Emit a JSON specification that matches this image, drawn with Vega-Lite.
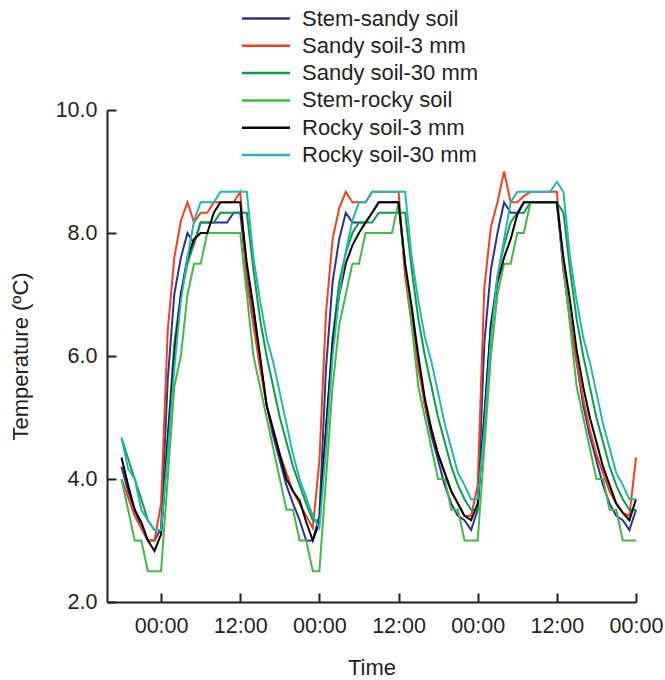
{
  "$schema": "https://vega.github.io/schema/vega-lite/v6.json",
  "width": 529,
  "height": 492,
  "autosize": {"type": "none"},
  "padding": {"left": 107, "top": 110, "right": 29, "bottom": 78},
  "background": "white",
  "config": {
    "view": {"stroke": null},
    "font": "Liberation Sans",
    "axis": {
      "domainColor": "#231f20",
      "domainWidth": 2,
      "tickColor": "#231f20",
      "tickWidth": 2,
      "labelColor": "#231f20",
      "labelFont": "Liberation Sans",
      "labelFontSize": 21.5,
      "titleFont": "Liberation Sans",
      "titleFontSize": 22,
      "titleFontWeight": "normal",
      "titleColor": "#231f20",
      "grid": false,
      "labelOverlap": false,
      "labelFlush": false
    }
  },
  "data": {
    "values": [
      {"h": -6, "B": 4.2, "R": 4.0, "G": 4.67, "L": 4.0, "K": 4.35, "T": 4.67},
      {"h": -5, "B": 3.8, "R": 3.7, "G": 4.33, "L": 3.5, "K": 3.9, "T": 4.17},
      {"h": -4, "B": 3.5, "R": 3.4, "G": 4.0, "L": 3.0, "K": 3.5, "T": 4.0},
      {"h": -3, "B": 3.2, "R": 3.2, "G": 3.67, "L": 3.0, "K": 3.3, "T": 3.5},
      {"h": -2, "B": 3.0, "R": 3.0, "G": 3.33, "L": 2.5, "K": 3.0, "T": 3.33},
      {"h": -1, "B": 3.0, "R": 3.0, "G": 3.17, "L": 2.5, "K": 2.83, "T": 3.17},
      {"h": 0, "B": 3.2, "R": 3.6, "G": 3.17, "L": 2.5, "K": 3.1, "T": 3.17},
      {"h": 1, "B": 5.6, "R": 6.4, "G": 4.7, "L": 4.0, "K": 4.6, "T": 4.4},
      {"h": 2, "B": 7.0, "R": 7.6, "G": 6.2, "L": 5.5, "K": 6.0, "T": 5.8},
      {"h": 3, "B": 7.6, "R": 8.2, "G": 7.0, "L": 6.0, "K": 7.0, "T": 6.9},
      {"h": 4, "B": 8.0, "R": 8.5, "G": 7.5, "L": 7.0, "K": 7.6, "T": 7.6},
      {"h": 5, "B": 7.83, "R": 8.17, "G": 7.83, "L": 7.5, "K": 7.9, "T": 8.2},
      {"h": 6, "B": 8.17, "R": 8.33, "G": 8.17, "L": 7.5, "K": 8.0, "T": 8.5},
      {"h": 7, "B": 8.17, "R": 8.33, "G": 8.17, "L": 8.0, "K": 8.0, "T": 8.5},
      {"h": 8, "B": 8.17, "R": 8.5, "G": 8.17, "L": 8.0, "K": 8.33, "T": 8.5},
      {"h": 9, "B": 8.17, "R": 8.5, "G": 8.33, "L": 8.0, "K": 8.5, "T": 8.67},
      {"h": 10, "B": 8.17, "R": 8.5, "G": 8.33, "L": 8.0, "K": 8.5, "T": 8.67},
      {"h": 11, "B": 8.33, "R": 8.5, "G": 8.33, "L": 8.0, "K": 8.5, "T": 8.67},
      {"h": 12, "B": 8.33, "R": 8.67, "G": 8.33, "L": 8.0, "K": 8.5, "T": 8.67},
      {"h": 13, "B": 7.3, "R": 7.2, "G": 8.33, "L": 7.0, "K": 7.5, "T": 8.67},
      {"h": 14, "B": 6.6, "R": 6.5, "G": 7.4, "L": 6.0, "K": 6.8, "T": 7.6},
      {"h": 15, "B": 5.9, "R": 5.8, "G": 6.6, "L": 5.5, "K": 6.0, "T": 6.9},
      {"h": 16, "B": 5.2, "R": 5.2, "G": 6.0, "L": 5.0, "K": 5.2, "T": 6.3},
      {"h": 17, "B": 4.7, "R": 4.8, "G": 5.5, "L": 4.5, "K": 4.8, "T": 5.9},
      {"h": 18, "B": 4.3, "R": 4.4, "G": 5.0, "L": 4.0, "K": 4.4, "T": 5.4},
      {"h": 19, "B": 3.9, "R": 4.1, "G": 4.6, "L": 3.5, "K": 4.0, "T": 4.9},
      {"h": 20, "B": 3.6, "R": 3.8, "G": 4.2, "L": 3.5, "K": 3.8, "T": 4.4},
      {"h": 21, "B": 3.33, "R": 3.6, "G": 3.9, "L": 3.0, "K": 3.65, "T": 4.0},
      {"h": 22, "B": 3.0, "R": 3.4, "G": 3.6, "L": 3.0, "K": 3.3, "T": 3.7},
      {"h": 23, "B": 3.0, "R": 3.2, "G": 3.33, "L": 2.5, "K": 3.0, "T": 3.4},
      {"h": 24, "B": 3.4, "R": 4.3, "G": 3.33, "L": 2.5, "K": 3.3, "T": 3.2},
      {"h": 25, "B": 5.8, "R": 6.7, "G": 4.8, "L": 4.0, "K": 4.8, "T": 4.5},
      {"h": 26, "B": 7.2, "R": 7.9, "G": 6.3, "L": 5.5, "K": 6.2, "T": 6.0},
      {"h": 27, "B": 7.9, "R": 8.4, "G": 7.2, "L": 6.5, "K": 7.0, "T": 7.0},
      {"h": 28, "B": 8.33, "R": 8.67, "G": 7.67, "L": 7.0, "K": 7.5, "T": 7.7},
      {"h": 29, "B": 8.17, "R": 8.5, "G": 8.0, "L": 7.5, "K": 7.8, "T": 8.2},
      {"h": 30, "B": 8.17, "R": 8.5, "G": 8.17, "L": 7.5, "K": 8.0, "T": 8.5},
      {"h": 31, "B": 8.17, "R": 8.5, "G": 8.17, "L": 8.0, "K": 8.17, "T": 8.5},
      {"h": 32, "B": 8.33, "R": 8.67, "G": 8.17, "L": 8.0, "K": 8.33, "T": 8.67},
      {"h": 33, "B": 8.5, "R": 8.67, "G": 8.33, "L": 8.0, "K": 8.5, "T": 8.67},
      {"h": 34, "B": 8.5, "R": 8.67, "G": 8.33, "L": 8.0, "K": 8.5, "T": 8.67},
      {"h": 35, "B": 8.5, "R": 8.67, "G": 8.33, "L": 8.0, "K": 8.5, "T": 8.67},
      {"h": 36, "B": 8.5, "R": 8.67, "G": 8.33, "L": 8.5, "K": 8.5, "T": 8.67},
      {"h": 37, "B": 7.4, "R": 7.3, "G": 8.33, "L": 7.5, "K": 7.5, "T": 8.67},
      {"h": 38, "B": 6.6, "R": 6.5, "G": 7.4, "L": 6.5, "K": 6.8, "T": 7.6},
      {"h": 39, "B": 5.9, "R": 5.8, "G": 6.6, "L": 5.5, "K": 6.0, "T": 6.9},
      {"h": 40, "B": 5.2, "R": 5.2, "G": 6.0, "L": 5.0, "K": 5.3, "T": 6.3},
      {"h": 41, "B": 4.7, "R": 4.8, "G": 5.5, "L": 4.5, "K": 4.8, "T": 5.9},
      {"h": 42, "B": 4.3, "R": 4.4, "G": 5.0, "L": 4.0, "K": 4.4, "T": 5.4},
      {"h": 43, "B": 3.9, "R": 4.1, "G": 4.6, "L": 4.0, "K": 4.1, "T": 4.9},
      {"h": 44, "B": 3.6, "R": 3.8, "G": 4.2, "L": 3.5, "K": 3.8, "T": 4.5},
      {"h": 45, "B": 3.4, "R": 3.6, "G": 3.9, "L": 3.5, "K": 3.6, "T": 4.1},
      {"h": 46, "B": 3.33, "R": 3.4, "G": 3.67, "L": 3.0, "K": 3.4, "T": 3.9},
      {"h": 47, "B": 3.17, "R": 3.4, "G": 3.5, "L": 3.0, "K": 3.33, "T": 3.67},
      {"h": 48, "B": 3.5, "R": 3.9, "G": 3.5, "L": 3.0, "K": 3.6, "T": 3.67},
      {"h": 49, "B": 6.2, "R": 7.1, "G": 5.0, "L": 4.5, "K": 5.0, "T": 4.8},
      {"h": 50, "B": 7.4, "R": 8.1, "G": 6.5, "L": 6.0, "K": 6.5, "T": 6.3},
      {"h": 51, "B": 8.0, "R": 8.5, "G": 7.3, "L": 7.0, "K": 7.2, "T": 7.3},
      {"h": 52, "B": 8.5, "R": 9.0, "G": 7.8, "L": 7.5, "K": 7.6, "T": 7.9},
      {"h": 53, "B": 8.33, "R": 8.5, "G": 8.17, "L": 7.5, "K": 7.9, "T": 8.5},
      {"h": 54, "B": 8.33, "R": 8.5, "G": 8.33, "L": 8.0, "K": 8.3, "T": 8.67},
      {"h": 55, "B": 8.5, "R": 8.6, "G": 8.33, "L": 8.0, "K": 8.5, "T": 8.67},
      {"h": 56, "B": 8.5, "R": 8.67, "G": 8.5, "L": 8.5, "K": 8.5, "T": 8.67},
      {"h": 57, "B": 8.5, "R": 8.67, "G": 8.5, "L": 8.5, "K": 8.5, "T": 8.67},
      {"h": 58, "B": 8.5, "R": 8.67, "G": 8.5, "L": 8.5, "K": 8.5, "T": 8.67},
      {"h": 59, "B": 8.5, "R": 8.67, "G": 8.5, "L": 8.5, "K": 8.5, "T": 8.67},
      {"h": 60, "B": 8.5, "R": 8.67, "G": 8.5, "L": 8.5, "K": 8.5, "T": 8.83},
      {"h": 61, "B": 7.4, "R": 7.4, "G": 8.33, "L": 7.5, "K": 7.6, "T": 8.67},
      {"h": 62, "B": 6.6, "R": 6.6, "G": 7.4, "L": 6.5, "K": 6.9, "T": 7.6},
      {"h": 63, "B": 5.9, "R": 5.9, "G": 6.6, "L": 5.5, "K": 6.1, "T": 6.9},
      {"h": 64, "B": 5.2, "R": 5.3, "G": 6.0, "L": 5.0, "K": 5.5, "T": 6.3},
      {"h": 65, "B": 4.7, "R": 4.8, "G": 5.5, "L": 4.5, "K": 5.0, "T": 5.9},
      {"h": 66, "B": 4.3, "R": 4.4, "G": 5.0, "L": 4.0, "K": 4.6, "T": 5.4},
      {"h": 67, "B": 3.9, "R": 4.1, "G": 4.6, "L": 4.0, "K": 4.2, "T": 4.9},
      {"h": 68, "B": 3.6, "R": 3.8, "G": 4.2, "L": 3.5, "K": 3.9, "T": 4.5},
      {"h": 69, "B": 3.4, "R": 3.6, "G": 3.9, "L": 3.5, "K": 3.6, "T": 4.1},
      {"h": 70, "B": 3.33, "R": 3.45, "G": 3.67, "L": 3.0, "K": 3.45, "T": 3.9},
      {"h": 71, "B": 3.17, "R": 3.4, "G": 3.5, "L": 3.0, "K": 3.33, "T": 3.67},
      {"h": 72, "B": 3.5, "R": 4.35, "G": 3.5, "L": 3.0, "K": 3.67, "T": 3.67}
    ]
  },
  "transform": [{"fold": ["B", "R", "G", "L", "K", "T"], "as": ["series", "temp"]}],
  "mark": {"type": "line", "strokeWidth": 2, "interpolate": "linear"},
  "encoding": {
    "x": {
      "field": "h",
      "type": "quantitative",
      "scale": {"domain": [-8.2, 72], "nice": false, "zero": false},
      "axis": {
        "values": [0, 12, 24, 36, 48, 60, 72],
        "labelExpr": "datum.value % 24 == 0 ? '00:00' : '12:00'",
        "title": "Time",
        "tickSize": -9,
        "labelPadding": 22,
        "titlePadding": 21
      }
    },
    "y": {
      "field": "temp",
      "type": "quantitative",
      "scale": {"domain": [2, 10], "nice": false, "zero": false},
      "axis": {
        "values": [2, 4, 6, 8, 10],
        "format": ".1f",
        "title": "Temperature (ºC)",
        "tickSize": -9,
        "labelPadding": 19,
        "titlePadding": 23
      }
    },
    "color": {
      "field": "series",
      "type": "nominal",
      "scale": {
        "domain": ["B", "R", "G", "L", "K", "T"],
        "range": ["#2e3192", "#ef4123", "#0f9a48", "#45b649", "#000000", "#25b5b0"]
      },
      "legend": {
        "orient": "none",
        "legendX": 165,
        "legendY": -102.5,
        "padding": 0,
        "title": null,
        "symbolType": "M-5.86,0H1",
        "symbolSize": 196,
        "symbolStrokeWidth": 2.5,
        "labelFontSize": 22,
        "labelLimit": 400,
        "labelOffset": 8,
        "rowPadding": 5.3,
        "labelColor": "#231f20",
        "labelFont": "Liberation Sans",
        "labelExpr": "datum.label == 'B' ? 'Stem-sandy soil' : datum.label == 'R' ? 'Sandy soil-3 mm' : datum.label == 'G' ? 'Sandy soil-30 mm' : datum.label == 'L' ? 'Stem-rocky soil' : datum.label == 'K' ? 'Rocky soil-3 mm' : 'Rocky soil-30 mm'"
      }
    }
  }
}
